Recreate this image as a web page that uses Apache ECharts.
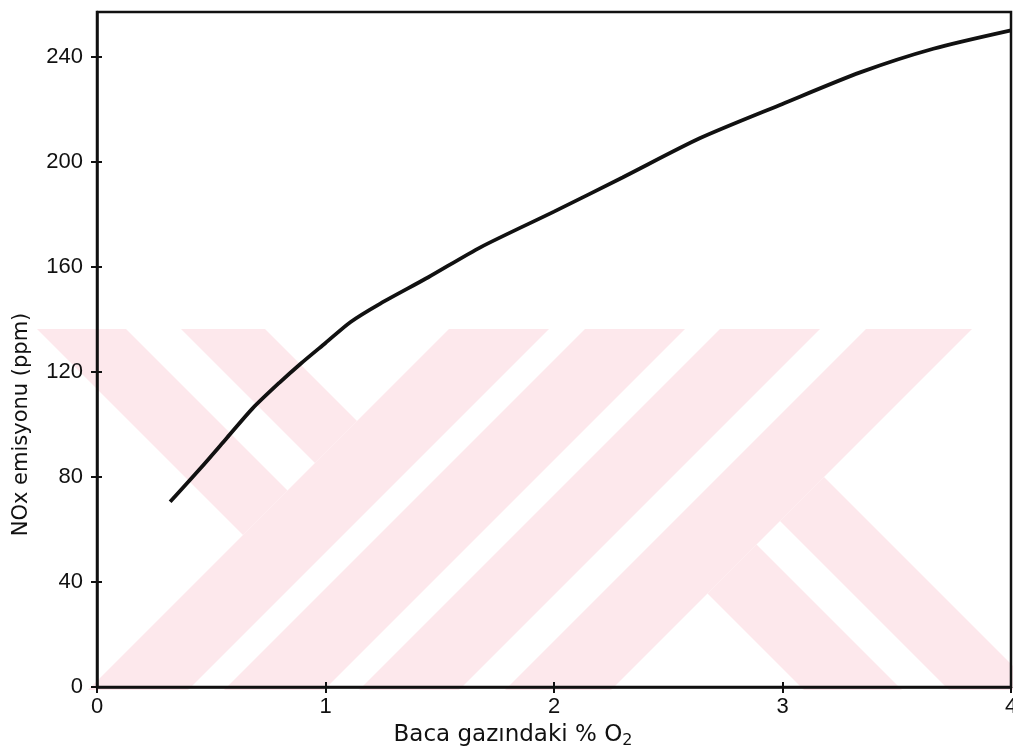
<!DOCTYPE html>
<html>
<head>
<meta charset="utf-8">
<title>NOx emisyonu</title>
<script src="https://cdn.jsdelivr.net/npm/echarts@6/dist/echarts.min.js"></script>
<style>
  html, body { margin: 0; padding: 0; background: #fff; }
  #chart { width: 1013px; height: 752px; }
</style>
</head>
<body>
<div id="chart"></div>
<script>
  // Baca gazindaki % O2
  var o2List = [0.32, 0.45, 0.57, 0.68, 0.80, 0.89, 1.00, 1.11, 1.24, 1.45, 1.68, 2.00, 2.30, 2.64, 3.00, 3.34, 3.66, 4.00];
  // NOx emisyonu (ppm)
  var noxList = [70.5, 83, 95, 106, 116, 123, 131, 139, 146, 156, 167.5, 181, 194, 209, 222, 234, 243, 250];
  var xTicks = [0, 1, 2, 3, 4];
  var yTicks = [0, 40, 80, 120, 160, 200, 240];

  // grid box (px)
  var gLeft = 97, gRight = 2, gTop = 12, gBottom = 65;

  // pink watermark behind the plot (decoration only)
  var wmBands = [
    [[37, 329], [126, 329], [287.5, 490.5], [243, 535]],
    [[181, 329], [265, 329], [357, 421], [315, 463]],
    [[449, 329], [549, 329], [188, 690], [88, 690]],
    [[585, 329], [685, 329], [324, 690], [224, 690]],
    [[720, 329], [820, 329], [459, 690], [359, 690]],
    [[866, 329], [972, 329], [611, 690], [505, 690]],
    [[756.5, 544.5], [707.5, 593.5], [804, 690], [902, 690]],
    [[824, 477], [780, 521], [949, 690], [1037, 690]]
  ];

  var ink = '#111';
  var tickFont = 'Liberation Sans, Arial, sans-serif';
  var nameFont = 'DejaVu Sans, sans-serif';

  var curve = o2List.map(function (x, i) { return [x, noxList[i]]; });

  var gridBox = {
    left: gLeft, right: gRight, top: gTop, bottom: gBottom,
    outerBoundsMode: 'none',
    containLabel: false
  };

  var chart = echarts.init(document.getElementById('chart'));
  chart.setOption({
    animation: false,
    backgroundColor: '#fff',
    graphic: wmBands.map(function (pts) {
      return {
        type: 'polygon',
        silent: true,
        z: -1,
        shape: { points: pts },
        style: { fill: '#fde8ec' }
      };
    }),
    grid: [
      Object.assign({
        show: true,
        borderColor: ink,
        borderWidth: 2.5,
        backgroundColor: 'transparent'
      }, gridBox),
      // same box again, only for the inner half of the crossing ticks
      Object.assign({ show: false }, gridBox)
    ],
    xAxis: [
      {
        type: 'value',
        gridIndex: 0,
        min: 0, max: 4, interval: 1,
        axisLine: { lineStyle: { color: ink, width: 2.5 } },
        axisTick: { inside: false, length: 6, customValues: xTicks, lineStyle: { color: ink, width: 2 } },
        axisLabel: { margin: 9, color: ink, fontSize: 22, fontFamily: tickFont, customValues: xTicks },
        splitLine: { show: false },
        name: 'Baca gazındaki % O{sub|2}',
        nameLocation: 'middle',
        nameGap: 34,
        nameTextStyle: {
          color: ink, fontSize: 23, fontFamily: nameFont,
          padding: [0, 82, 0, 0],
          rich: { sub: { fontSize: 16, fontFamily: nameFont, color: ink, padding: [12, 0, 0, 0] } }
        }
      },
      {
        type: 'value',
        gridIndex: 1,
        min: 0, max: 4, interval: 1,
        position: 'bottom',
        axisLine: { show: true, lineStyle: { color: 'rgba(0,0,0,0)' } },
        axisTick: { show: true, inside: true, length: 5, customValues: xTicks, lineStyle: { color: ink, width: 2 } },
        axisLabel: { show: false },
        splitLine: { show: false }
      }
    ],
    yAxis: [
      {
        type: 'value',
        gridIndex: 0,
        min: 0, max: 257,
        axisLine: { show: true, lineStyle: { color: ink, width: 2.5 } },
        axisTick: { show: true, inside: false, length: 6, customValues: yTicks, lineStyle: { color: ink, width: 2 } },
        axisLabel: { margin: 14, color: ink, fontSize: 22, fontFamily: tickFont, customValues: yTicks },
        splitLine: { show: false },
        name: 'NOx emisyonu (ppm)',
        nameLocation: 'middle',
        nameGap: 65,
        nameTextStyle: { color: ink, fontSize: 21, fontFamily: nameFont, padding: [0, 150, 0, 0] }
      },
      {
        type: 'value',
        gridIndex: 1,
        min: 0, max: 257,
        position: 'left',
        axisLine: { show: true, lineStyle: { color: 'rgba(0,0,0,0)' } },
        axisTick: { show: true, inside: true, length: 5, customValues: yTicks, lineStyle: { color: ink, width: 2 } },
        axisLabel: { show: false },
        splitLine: { show: false }
      }
    ],
    series: [
      {
        type: 'line',
        xAxisIndex: 0,
        yAxisIndex: 0,
        data: curve,
        showSymbol: false,
        smooth: 0.25,
        lineStyle: { color: ink, width: 3.8 }
      }
    ]
  });
</script>
</body>
</html>
